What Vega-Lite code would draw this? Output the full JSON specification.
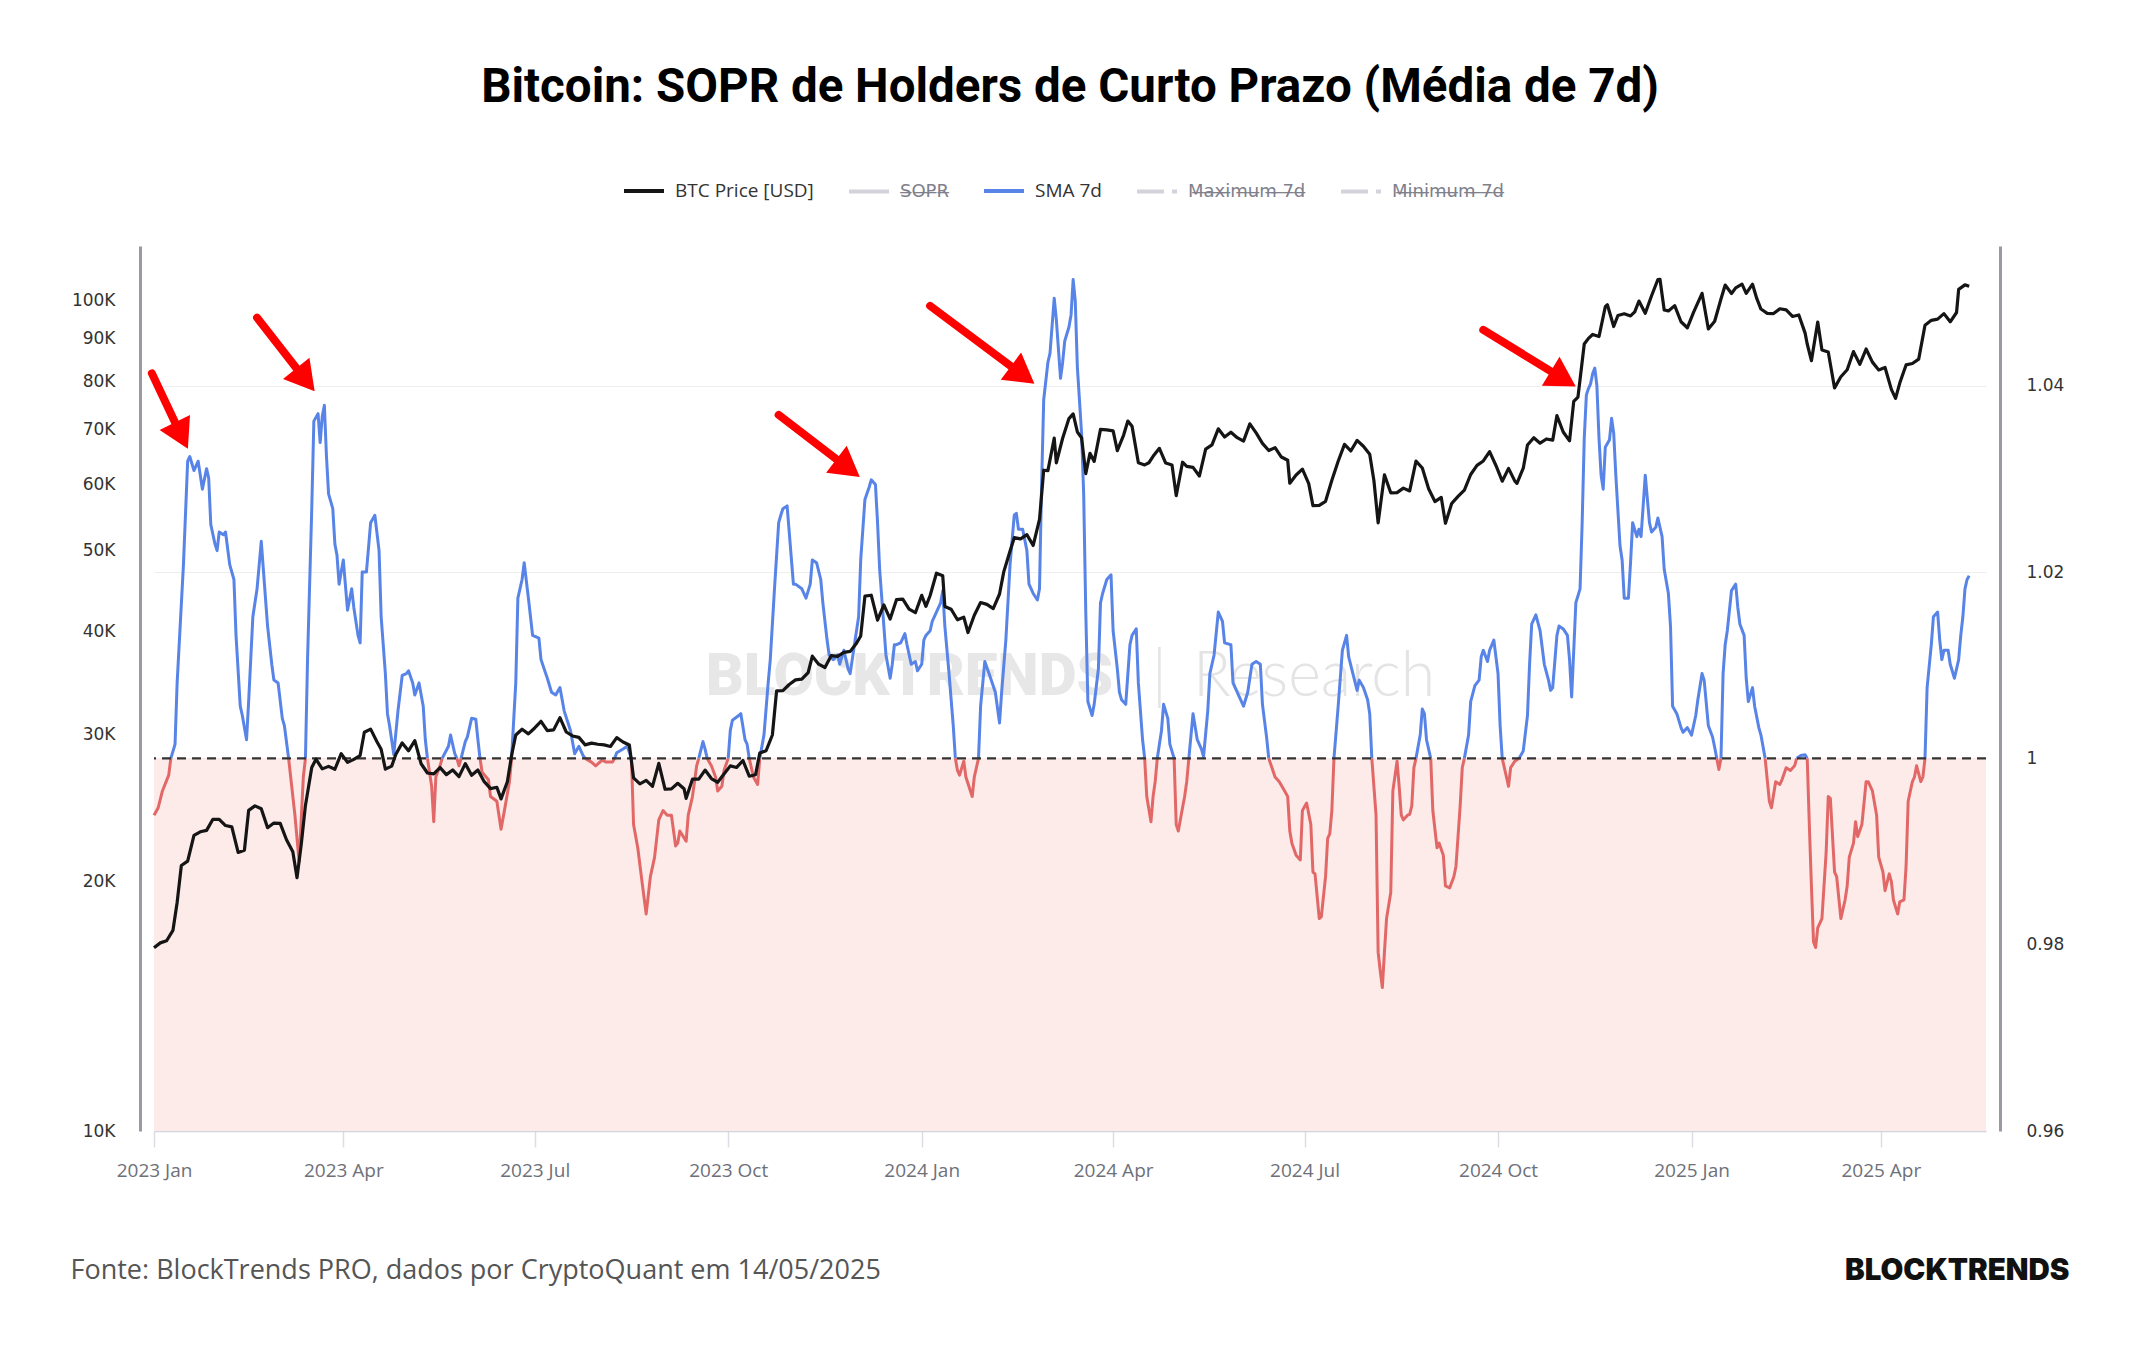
{
  "$schema": "https://vega.github.io/schema/vega-lite/v6.json",
  "autosize": {"type": "none"},
  "width": 1832,
  "height": 885,
  "padding": {"left": 154, "top": 246, "right": 158, "bottom": 219},
  "background": "#ffffff",
  "title": {
    "text": "Bitcoin: SOPR de Holders de Curto Prazo (Média de 7d)",
    "font": "Roboto",
    "fontSize": 47.5,
    "fontWeight": "bold",
    "color": "#000000",
    "anchor": "middle",
    "frame": "group",
    "offset": 57.5
  },
  "config": {
    "view": {"stroke": null},
    "axis": {"labelFont": "DejaVu Sans", "titleFont": "Open Sans"}
  },
  "datasets": {
    "btc": [
      {"d":"2023-01-01","p":16620},{"d":"2023-01-04","p":16850},{"d":"2023-01-07","p":16950},{"d":"2023-01-10","p":17440},
      {"d":"2023-01-12","p":18850},{"d":"2023-01-14","p":20880},{"d":"2023-01-17","p":21140},{"d":"2023-01-20","p":22700},
      {"d":"2023-01-23","p":22930},{"d":"2023-01-26","p":23020},{"d":"2023-01-29","p":23740},{"d":"2023-02-01","p":23730},
      {"d":"2023-02-04","p":23330},{"d":"2023-02-07","p":23240},{"d":"2023-02-10","p":21650},{"d":"2023-02-13","p":21790},
      {"d":"2023-02-15","p":24330},{"d":"2023-02-18","p":24640},{"d":"2023-02-21","p":24440},{"d":"2023-02-24","p":23190},
      {"d":"2023-02-27","p":23490},{"d":"2023-03-02","p":23470},{"d":"2023-03-05","p":22430},{"d":"2023-03-08","p":21700},
      {"d":"2023-03-10","p":20190},{"d":"2023-03-12","p":22130},{"d":"2023-03-14","p":24670},{"d":"2023-03-17","p":27400},
      {"d":"2023-03-19","p":28040},{"d":"2023-03-22","p":27300},{"d":"2023-03-25","p":27490},{"d":"2023-03-28","p":27270},
      {"d":"2023-03-31","p":28480},{"d":"2023-04-03","p":27800},{"d":"2023-04-06","p":28030},{"d":"2023-04-09","p":28330},
      {"d":"2023-04-11","p":30220},{"d":"2023-04-14","p":30480},{"d":"2023-04-17","p":29440},{"d":"2023-04-19","p":28820},
      {"d":"2023-04-21","p":27280},{"d":"2023-04-24","p":27510},{"d":"2023-04-26","p":28430},{"d":"2023-04-29","p":29340},
      {"d":"2023-05-02","p":28700},{"d":"2023-05-05","p":29530},{"d":"2023-05-08","p":27690},{"d":"2023-05-11","p":26990},
      {"d":"2023-05-14","p":26920},{"d":"2023-05-17","p":27400},{"d":"2023-05-20","p":26870},{"d":"2023-05-23","p":27220},
      {"d":"2023-05-26","p":26720},{"d":"2023-05-29","p":27700},{"d":"2023-06-01","p":26820},{"d":"2023-06-04","p":27220},
      {"d":"2023-06-07","p":26350},{"d":"2023-06-10","p":25850},{"d":"2023-06-13","p":25940},{"d":"2023-06-15","p":25120},
      {"d":"2023-06-18","p":26340},{"d":"2023-06-20","p":28330},{"d":"2023-06-22","p":29990},{"d":"2023-06-25","p":30470},
      {"d":"2023-06-28","p":30080},{"d":"2023-07-01","p":30580},{"d":"2023-07-04","p":31150},{"d":"2023-07-07","p":30350},
      {"d":"2023-07-10","p":30420},{"d":"2023-07-13","p":31470},{"d":"2023-07-16","p":30240},{"d":"2023-07-19","p":29910},
      {"d":"2023-07-22","p":29790},{"d":"2023-07-25","p":29180},{"d":"2023-07-28","p":29320},{"d":"2023-07-31","p":29230},
      {"d":"2023-08-03","p":29180},{"d":"2023-08-06","p":29050},{"d":"2023-08-09","p":29770},{"d":"2023-08-12","p":29410},
      {"d":"2023-08-15","p":29170},{"d":"2023-08-17","p":26630},{"d":"2023-08-20","p":26190},{"d":"2023-08-23","p":26440},
      {"d":"2023-08-26","p":26010},{"d":"2023-08-29","p":27720},{"d":"2023-09-01","p":25800},{"d":"2023-09-04","p":25830},
      {"d":"2023-09-07","p":26230},{"d":"2023-09-10","p":25840},{"d":"2023-09-11","p":25160},{"d":"2023-09-14","p":26530},
      {"d":"2023-09-17","p":26530},{"d":"2023-09-20","p":27210},{"d":"2023-09-23","p":26580},{"d":"2023-09-26","p":26300},
      {"d":"2023-09-29","p":26910},{"d":"2023-10-02","p":27530},{"d":"2023-10-05","p":27410},{"d":"2023-10-08","p":27940},
      {"d":"2023-10-11","p":26750},{"d":"2023-10-14","p":26860},{"d":"2023-10-16","p":28520},{"d":"2023-10-19","p":28710},
      {"d":"2023-10-22","p":29990},{"d":"2023-10-24","p":33900},{"d":"2023-10-27","p":33920},{"d":"2023-10-30","p":34500},
      {"d":"2023-11-02","p":34940},{"d":"2023-11-05","p":35010},{"d":"2023-11-08","p":35650},{"d":"2023-11-10","p":37320},
      {"d":"2023-11-13","p":36500},{"d":"2023-11-16","p":36160},{"d":"2023-11-19","p":37380},{"d":"2023-11-22","p":37290},
      {"d":"2023-11-25","p":37720},{"d":"2023-11-28","p":37820},{"d":"2023-12-01","p":38690},{"d":"2023-12-03","p":39470},
      {"d":"2023-12-05","p":44080},{"d":"2023-12-08","p":44190},{"d":"2023-12-11","p":41240},{"d":"2023-12-14","p":43020},
      {"d":"2023-12-17","p":41360},{"d":"2023-12-20","p":43650},{"d":"2023-12-23","p":43720},{"d":"2023-12-26","p":42520},
      {"d":"2023-12-29","p":42100},{"d":"2024-01-01","p":44180},{"d":"2024-01-03","p":42850},{"d":"2024-01-05","p":44160},
      {"d":"2024-01-08","p":46970},{"d":"2024-01-11","p":46630},{"d":"2024-01-12","p":42830},{"d":"2024-01-15","p":42510},
      {"d":"2024-01-18","p":41280},{"d":"2024-01-21","p":41580},{"d":"2024-01-23","p":39850},{"d":"2024-01-26","p":41810},
      {"d":"2024-01-29","p":43300},{"d":"2024-02-01","p":43080},{"d":"2024-02-04","p":42580},{"d":"2024-02-07","p":44340},
      {"d":"2024-02-09","p":47150},{"d":"2024-02-12","p":49960},{"d":"2024-02-14","p":51840},{"d":"2024-02-17","p":51660},
      {"d":"2024-02-20","p":52270},{"d":"2024-02-23","p":50730},{"d":"2024-02-26","p":54520},{"d":"2024-02-28","p":62500},
      {"d":"2024-03-01","p":62440},{"d":"2024-03-04","p":68330},{"d":"2024-03-05","p":63800},{"d":"2024-03-08","p":68300},
      {"d":"2024-03-11","p":72120},{"d":"2024-03-13","p":73080},{"d":"2024-03-15","p":69500},{"d":"2024-03-17","p":68390},
      {"d":"2024-03-19","p":61910},{"d":"2024-03-21","p":65500},{"d":"2024-03-23","p":64040},{"d":"2024-03-26","p":70000},
      {"d":"2024-03-29","p":69890},{"d":"2024-04-01","p":69700},{"d":"2024-04-03","p":65980},{"d":"2024-04-06","p":68900},
      {"d":"2024-04-08","p":71630},{"d":"2024-04-10","p":70600},{"d":"2024-04-13","p":63800},{"d":"2024-04-16","p":63430},
      {"d":"2024-04-18","p":63810},{"d":"2024-04-20","p":64950},{"d":"2024-04-23","p":66410},{"d":"2024-04-26","p":63760},
      {"d":"2024-04-29","p":63420},{"d":"2024-05-01","p":58250},{"d":"2024-05-04","p":63900},{"d":"2024-05-06","p":63160},
      {"d":"2024-05-09","p":63000},{"d":"2024-05-12","p":61500},{"d":"2024-05-15","p":66270},{"d":"2024-05-18","p":67040},
      {"d":"2024-05-21","p":70100},{"d":"2024-05-24","p":68520},{"d":"2024-05-27","p":69450},{"d":"2024-05-30","p":68400},
      {"d":"2024-06-02","p":67760},{"d":"2024-06-05","p":71080},{"d":"2024-06-08","p":69310},{"d":"2024-06-11","p":67320},
      {"d":"2024-06-14","p":66010},{"d":"2024-06-17","p":66550},{"d":"2024-06-20","p":64830},{"d":"2024-06-23","p":64250},
      {"d":"2024-06-24","p":60280},{"d":"2024-06-27","p":61680},{"d":"2024-06-30","p":62680},{"d":"2024-07-03","p":60220},
      {"d":"2024-07-05","p":56660},{"d":"2024-07-08","p":56700},{"d":"2024-07-11","p":57340},{"d":"2024-07-14","p":60800},
      {"d":"2024-07-17","p":64080},{"d":"2024-07-20","p":67150},{"d":"2024-07-23","p":65930},{"d":"2024-07-26","p":67900},
      {"d":"2024-07-29","p":66800},{"d":"2024-08-01","p":65350},{"d":"2024-08-03","p":60700},{"d":"2024-08-05","p":54020},
      {"d":"2024-08-08","p":61700},{"d":"2024-08-11","p":58700},{"d":"2024-08-14","p":58740},{"d":"2024-08-17","p":59480},
      {"d":"2024-08-20","p":59010},{"d":"2024-08-23","p":64100},{"d":"2024-08-26","p":62880},{"d":"2024-08-29","p":59360},
      {"d":"2024-09-01","p":57300},{"d":"2024-09-04","p":57970},{"d":"2024-09-06","p":53950},{"d":"2024-09-09","p":57020},
      {"d":"2024-09-12","p":58130},{"d":"2024-09-15","p":59130},{"d":"2024-09-18","p":61760},{"d":"2024-09-21","p":63350},
      {"d":"2024-09-24","p":64130},{"d":"2024-09-27","p":65800},{"d":"2024-09-30","p":63330},{"d":"2024-10-03","p":60630},
      {"d":"2024-10-06","p":62820},{"d":"2024-10-09","p":60640},{"d":"2024-10-10","p":60270},{"d":"2024-10-13","p":62850},
      {"d":"2024-10-15","p":67040},{"d":"2024-10-18","p":68400},{"d":"2024-10-21","p":67370},{"d":"2024-10-24","p":68160},
      {"d":"2024-10-27","p":67930},{"d":"2024-10-29","p":72730},{"d":"2024-11-01","p":69480},{"d":"2024-11-04","p":67810},
      {"d":"2024-11-06","p":75640},{"d":"2024-11-08","p":76550},{"d":"2024-11-11","p":88700},{"d":"2024-11-13","p":90100},
      {"d":"2024-11-15","p":91070},{"d":"2024-11-18","p":90550},{"d":"2024-11-21","p":98350},{"d":"2024-11-22","p":98900},
      {"d":"2024-11-25","p":93100},{"d":"2024-11-27","p":96000},{"d":"2024-11-30","p":96450},{"d":"2024-12-03","p":95880},
      {"d":"2024-12-05","p":96950},{"d":"2024-12-07","p":99920},{"d":"2024-12-10","p":96590},{"d":"2024-12-13","p":101400},
      {"d":"2024-12-16","p":106060},{"d":"2024-12-17","p":106140},{"d":"2024-12-19","p":97460},{"d":"2024-12-21","p":97220},
      {"d":"2024-12-24","p":98660},{"d":"2024-12-27","p":94350},{"d":"2024-12-30","p":92780},{"d":"2025-01-02","p":96890},
      {"d":"2025-01-06","p":102080},{"d":"2025-01-09","p":92490},{"d":"2025-01-12","p":94490},{"d":"2025-01-15","p":100500},
      {"d":"2025-01-17","p":104460},{"d":"2025-01-20","p":102020},{"d":"2025-01-22","p":103650},{"d":"2025-01-25","p":104700},
      {"d":"2025-01-27","p":102090},{"d":"2025-01-30","p":104700},{"d":"2025-02-01","p":100640},{"d":"2025-02-03","p":97730},
      {"d":"2025-02-06","p":96580},{"d":"2025-02-09","p":96500},{"d":"2025-02-12","p":97800},{"d":"2025-02-15","p":97510},
      {"d":"2025-02-18","p":95740},{"d":"2025-02-21","p":96130},{"d":"2025-02-24","p":91420},{"d":"2025-02-25","p":88700},
      {"d":"2025-02-27","p":84700},{"d":"2025-03-02","p":94260},{"d":"2025-03-04","p":87220},{"d":"2025-03-07","p":86740},
      {"d":"2025-03-10","p":78530},{"d":"2025-03-13","p":80990},{"d":"2025-03-16","p":82580},{"d":"2025-03-19","p":86850},
      {"d":"2025-03-22","p":83840},{"d":"2025-03-25","p":87470},{"d":"2025-03-28","p":84350},{"d":"2025-03-31","p":82550},
      {"d":"2025-04-03","p":83100},{"d":"2025-04-06","p":78200},{"d":"2025-04-08","p":76270},{"d":"2025-04-10","p":79590},
      {"d":"2025-04-13","p":83700},{"d":"2025-04-16","p":84030},{"d":"2025-04-19","p":85060},{"d":"2025-04-22","p":93440},
      {"d":"2025-04-25","p":94720},{"d":"2025-04-28","p":95040},{"d":"2025-05-01","p":96490},{"d":"2025-05-04","p":94320},
      {"d":"2025-05-07","p":96800},{"d":"2025-05-08","p":103200},{"d":"2025-05-11","p":104500},{"d":"2025-05-13","p":104100}
    ],
    "sopr": [
      {"d":"2023-01-01","v":0.9939,"g":1,"s":"below"},{"d":"2023-01-03","v":0.9947,"g":1,"s":"below"},{"d":"2023-01-05","v":0.9965,"g":1,"s":"below"},{"d":"2023-01-08","v":0.9982,"g":1,"s":"below"},{"d":"2023-01-09","v":1,"g":1,"s":"below"},
      {"d":"2023-01-09","v":1,"g":2,"s":"above"},{"d":"2023-01-11","v":1.0015,"g":2,"s":"above"},{"d":"2023-01-12","v":1.0081,"g":2,"s":"above"},{"d":"2023-01-15","v":1.0208,"g":2,"s":"above"},{"d":"2023-01-17","v":1.0319,"g":2,"s":"above"},{"d":"2023-01-18","v":1.0324,"g":2,"s":"above"},{"d":"2023-01-20","v":1.0309,"g":2,"s":"above"},{"d":"2023-01-22","v":1.0319,"g":2,"s":"above"},{"d":"2023-01-24","v":1.0289,"g":2,"s":"above"},{"d":"2023-01-26","v":1.0311,"g":2,"s":"above"},{"d":"2023-01-27","v":1.0301,"g":2,"s":"above"},{"d":"2023-01-28","v":1.0251,"g":2,"s":"above"},{"d":"2023-01-30","v":1.0230,"g":2,"s":"above"},{"d":"2023-01-31","v":1.0223,"g":2,"s":"above"},{"d":"2023-02-01","v":1.0243,"g":2,"s":"above"},{"d":"2023-02-03","v":1.0240,"g":2,"s":"above"},{"d":"2023-02-04","v":1.0243,"g":2,"s":"above"},{"d":"2023-02-06","v":1.0208,"g":2,"s":"above"},{"d":"2023-02-08","v":1.0192,"g":2,"s":"above"},{"d":"2023-02-09","v":1.0132,"g":2,"s":"above"},{"d":"2023-02-11","v":1.0056,"g":2,"s":"above"},{"d":"2023-02-12","v":1.0046,"g":2,"s":"above"},{"d":"2023-02-14","v":1.0020,"g":2,"s":"above"},{"d":"2023-02-15","v":1.0061,"g":2,"s":"above"},{"d":"2023-02-17","v":1.0152,"g":2,"s":"above"},{"d":"2023-02-19","v":1.0182,"g":2,"s":"above"},{"d":"2023-02-21","v":1.0233,"g":2,"s":"above"},{"d":"2023-02-23","v":1.0172,"g":2,"s":"above"},{"d":"2023-02-24","v":1.0142,"g":2,"s":"above"},{"d":"2023-02-26","v":1.0101,"g":2,"s":"above"},{"d":"2023-02-27","v":1.0084,"g":2,"s":"above"},{"d":"2023-03-01","v":1.0081,"g":2,"s":"above"},{"d":"2023-03-03","v":1.0043,"g":2,"s":"above"},{"d":"2023-03-04","v":1.0035,"g":2,"s":"above"},{"d":"2023-03-06","v":1,"g":2,"s":"above"},
      {"d":"2023-03-06","v":1,"g":3,"s":"below"},{"d":"2023-03-09","v":0.9939,"g":3,"s":"below"},{"d":"2023-03-11","v":0.9889,"g":3,"s":"below"},{"d":"2023-03-13","v":0.9980,"g":3,"s":"below"},{"d":"2023-03-14","v":1,"g":3,"s":"below"},
      {"d":"2023-03-14","v":1,"g":4,"s":"above"},{"d":"2023-03-15","v":1.0106,"g":4,"s":"above"},{"d":"2023-03-17","v":1.0268,"g":4,"s":"above"},{"d":"2023-03-18","v":1.0362,"g":4,"s":"above"},{"d":"2023-03-20","v":1.0370,"g":4,"s":"above"},{"d":"2023-03-21","v":1.0339,"g":4,"s":"above"},{"d":"2023-03-22","v":1.0367,"g":4,"s":"above"},{"d":"2023-03-23","v":1.0379,"g":4,"s":"above"},{"d":"2023-03-24","v":1.0324,"g":4,"s":"above"},{"d":"2023-03-25","v":1.0284,"g":4,"s":"above"},{"d":"2023-03-27","v":1.0268,"g":4,"s":"above"},{"d":"2023-03-28","v":1.0230,"g":4,"s":"above"},{"d":"2023-03-29","v":1.0218,"g":4,"s":"above"},{"d":"2023-03-30","v":1.0187,"g":4,"s":"above"},{"d":"2023-04-01","v":1.0213,"g":4,"s":"above"},{"d":"2023-04-03","v":1.0159,"g":4,"s":"above"},{"d":"2023-04-05","v":1.0182,"g":4,"s":"above"},{"d":"2023-04-06","v":1.0162,"g":4,"s":"above"},{"d":"2023-04-08","v":1.0132,"g":4,"s":"above"},{"d":"2023-04-09","v":1.0124,"g":4,"s":"above"},{"d":"2023-04-10","v":1.0200,"g":4,"s":"above"},{"d":"2023-04-12","v":1.0200,"g":4,"s":"above"},{"d":"2023-04-14","v":1.0253,"g":4,"s":"above"},{"d":"2023-04-16","v":1.0261,"g":4,"s":"above"},{"d":"2023-04-18","v":1.0223,"g":4,"s":"above"},{"d":"2023-04-19","v":1.0152,"g":4,"s":"above"},{"d":"2023-04-21","v":1.0091,"g":4,"s":"above"},{"d":"2023-04-22","v":1.0048,"g":4,"s":"above"},{"d":"2023-04-23","v":1.0035,"g":4,"s":"above"},{"d":"2023-04-25","v":1.0004,"g":4,"s":"above"},{"d":"2023-04-27","v":1.0051,"g":4,"s":"above"},{"d":"2023-04-29","v":1.0089,"g":4,"s":"above"},{"d":"2023-05-01","v":1.0091,"g":4,"s":"above"},{"d":"2023-05-02","v":1.0094,"g":4,"s":"above"},{"d":"2023-05-04","v":1.0081,"g":4,"s":"above"},{"d":"2023-05-05","v":1.0068,"g":4,"s":"above"},{"d":"2023-05-07","v":1.0081,"g":4,"s":"above"},{"d":"2023-05-09","v":1.0056,"g":4,"s":"above"},{"d":"2023-05-10","v":1.0020,"g":4,"s":"above"},{"d":"2023-05-11","v":1,"g":4,"s":"above"},
      {"d":"2023-05-11","v":1,"g":5,"s":"below"},{"d":"2023-05-13","v":0.9970,"g":5,"s":"below"},{"d":"2023-05-14","v":0.9932,"g":5,"s":"below"},{"d":"2023-05-15","v":0.9980,"g":5,"s":"below"},{"d":"2023-05-17","v":0.9992,"g":5,"s":"below"},{"d":"2023-05-18","v":1,"g":5,"s":"below"},
      {"d":"2023-05-18","v":1,"g":6,"s":"above"},{"d":"2023-05-21","v":1.0013,"g":6,"s":"above"},{"d":"2023-05-22","v":1.0025,"g":6,"s":"above"},{"d":"2023-05-24","v":1.0005,"g":6,"s":"above"},{"d":"2023-05-25","v":1,"g":6,"s":"above"},
      {"d":"2023-05-25","v":1,"g":7,"s":"below"},{"d":"2023-05-26","v":0.9992,"g":7,"s":"below"},{"d":"2023-05-27","v":1,"g":7,"s":"below"},
      {"d":"2023-05-27","v":1,"g":8,"s":"above"},{"d":"2023-05-29","v":1.0018,"g":8,"s":"above"},{"d":"2023-05-30","v":1.0023,"g":8,"s":"above"},{"d":"2023-06-01","v":1.0043,"g":8,"s":"above"},{"d":"2023-06-03","v":1.0042,"g":8,"s":"above"},{"d":"2023-06-04","v":1.0020,"g":8,"s":"above"},{"d":"2023-06-05","v":1,"g":8,"s":"above"},
      {"d":"2023-06-05","v":1,"g":9,"s":"below"},{"d":"2023-06-06","v":0.9985,"g":9,"s":"below"},{"d":"2023-06-09","v":0.9977,"g":9,"s":"below"},{"d":"2023-06-10","v":0.9959,"g":9,"s":"below"},{"d":"2023-06-13","v":0.9954,"g":9,"s":"below"},{"d":"2023-06-15","v":0.9924,"g":9,"s":"below"},{"d":"2023-06-17","v":0.9949,"g":9,"s":"below"},{"d":"2023-06-19","v":0.9975,"g":9,"s":"below"},{"d":"2023-06-20","v":1,"g":9,"s":"below"},
      {"d":"2023-06-20","v":1,"g":10,"s":"above"},{"d":"2023-06-22","v":1.0081,"g":10,"s":"above"},{"d":"2023-06-23","v":1.0172,"g":10,"s":"above"},{"d":"2023-06-25","v":1.0192,"g":10,"s":"above"},{"d":"2023-06-26","v":1.0210,"g":10,"s":"above"},{"d":"2023-06-28","v":1.0172,"g":10,"s":"above"},{"d":"2023-06-30","v":1.0132,"g":10,"s":"above"},{"d":"2023-07-03","v":1.0129,"g":10,"s":"above"},{"d":"2023-07-04","v":1.0106,"g":10,"s":"above"},{"d":"2023-07-07","v":1.0086,"g":10,"s":"above"},{"d":"2023-07-09","v":1.0071,"g":10,"s":"above"},{"d":"2023-07-11","v":1.0068,"g":10,"s":"above"},{"d":"2023-07-13","v":1.0076,"g":10,"s":"above"},{"d":"2023-07-15","v":1.0051,"g":10,"s":"above"},{"d":"2023-07-18","v":1.0030,"g":10,"s":"above"},{"d":"2023-07-20","v":1.0005,"g":10,"s":"above"},{"d":"2023-07-22","v":1.0013,"g":10,"s":"above"},{"d":"2023-07-24","v":1.0003,"g":10,"s":"above"},{"d":"2023-07-25","v":1,"g":10,"s":"above"},
      {"d":"2023-07-25","v":1,"g":11,"s":"below"},{"d":"2023-07-28","v":0.9996,"g":11,"s":"below"},{"d":"2023-07-30","v":0.9992,"g":11,"s":"below"},{"d":"2023-08-02","v":0.9998,"g":11,"s":"below"},{"d":"2023-08-04","v":0.9996,"g":11,"s":"below"},{"d":"2023-08-07","v":0.9996,"g":11,"s":"below"},{"d":"2023-08-08","v":1,"g":11,"s":"below"},
      {"d":"2023-08-08","v":1,"g":12,"s":"above"},{"d":"2023-08-09","v":1.0006,"g":12,"s":"above"},{"d":"2023-08-12","v":1.0010,"g":12,"s":"above"},{"d":"2023-08-14","v":1.0013,"g":12,"s":"above"},{"d":"2023-08-16","v":1,"g":12,"s":"above"},
      {"d":"2023-08-16","v":1,"g":13,"s":"below"},{"d":"2023-08-17","v":0.9929,"g":13,"s":"below"},{"d":"2023-08-19","v":0.9904,"g":13,"s":"below"},{"d":"2023-08-21","v":0.9868,"g":13,"s":"below"},{"d":"2023-08-23","v":0.9833,"g":13,"s":"below"},{"d":"2023-08-25","v":0.9873,"g":13,"s":"below"},{"d":"2023-08-27","v":0.9894,"g":13,"s":"below"},{"d":"2023-08-29","v":0.9934,"g":13,"s":"below"},{"d":"2023-08-31","v":0.9944,"g":13,"s":"below"},{"d":"2023-09-02","v":0.9939,"g":13,"s":"below"},{"d":"2023-09-04","v":0.9939,"g":13,"s":"below"},{"d":"2023-09-06","v":0.9906,"g":13,"s":"below"},{"d":"2023-09-07","v":0.9909,"g":13,"s":"below"},{"d":"2023-09-08","v":0.9922,"g":13,"s":"below"},{"d":"2023-09-11","v":0.9911,"g":13,"s":"below"},{"d":"2023-09-12","v":0.9939,"g":13,"s":"below"},{"d":"2023-09-14","v":0.9959,"g":13,"s":"below"},{"d":"2023-09-15","v":0.9975,"g":13,"s":"below"},{"d":"2023-09-16","v":0.9992,"g":13,"s":"below"},{"d":"2023-09-17","v":1,"g":13,"s":"below"},
      {"d":"2023-09-17","v":1,"g":14,"s":"above"},{"d":"2023-09-19","v":1.0018,"g":14,"s":"above"},{"d":"2023-09-20","v":1.0010,"g":14,"s":"above"},{"d":"2023-09-21","v":1,"g":14,"s":"above"},
      {"d":"2023-09-21","v":1,"g":15,"s":"below"},{"d":"2023-09-23","v":0.9992,"g":15,"s":"below"},{"d":"2023-09-25","v":0.9980,"g":15,"s":"below"},{"d":"2023-09-26","v":0.9965,"g":15,"s":"below"},{"d":"2023-09-28","v":0.9970,"g":15,"s":"below"},{"d":"2023-09-29","v":0.9987,"g":15,"s":"below"},{"d":"2023-10-01","v":1,"g":15,"s":"below"},
      {"d":"2023-10-01","v":1,"g":16,"s":"above"},{"d":"2023-10-02","v":1.0030,"g":16,"s":"above"},{"d":"2023-10-03","v":1.0041,"g":16,"s":"above"},{"d":"2023-10-06","v":1.0046,"g":16,"s":"above"},{"d":"2023-10-07","v":1.0048,"g":16,"s":"above"},{"d":"2023-10-09","v":1.0020,"g":16,"s":"above"},{"d":"2023-10-10","v":1.0015,"g":16,"s":"above"},{"d":"2023-10-11","v":1,"g":16,"s":"above"},
      {"d":"2023-10-11","v":1,"g":17,"s":"below"},{"d":"2023-10-13","v":0.9980,"g":17,"s":"below"},{"d":"2023-10-15","v":0.9972,"g":17,"s":"below"},{"d":"2023-10-16","v":1,"g":17,"s":"below"},
      {"d":"2023-10-16","v":1,"g":18,"s":"above"},{"d":"2023-10-18","v":1.0025,"g":18,"s":"above"},{"d":"2023-10-20","v":1.0081,"g":18,"s":"above"},{"d":"2023-10-21","v":1.0106,"g":18,"s":"above"},{"d":"2023-10-23","v":1.0182,"g":18,"s":"above"},{"d":"2023-10-25","v":1.0253,"g":18,"s":"above"},{"d":"2023-10-26","v":1.0261,"g":18,"s":"above"},{"d":"2023-10-27","v":1.0268,"g":18,"s":"above"},{"d":"2023-10-29","v":1.0271,"g":18,"s":"above"},{"d":"2023-10-30","v":1.0243,"g":18,"s":"above"},{"d":"2023-11-01","v":1.0187,"g":18,"s":"above"},{"d":"2023-11-02","v":1.0187,"g":18,"s":"above"},{"d":"2023-11-05","v":1.0182,"g":18,"s":"above"},{"d":"2023-11-07","v":1.0172,"g":18,"s":"above"},{"d":"2023-11-09","v":1.0187,"g":18,"s":"above"},{"d":"2023-11-10","v":1.0213,"g":18,"s":"above"},{"d":"2023-11-12","v":1.0210,"g":18,"s":"above"},{"d":"2023-11-14","v":1.0192,"g":18,"s":"above"},{"d":"2023-11-15","v":1.0167,"g":18,"s":"above"},{"d":"2023-11-17","v":1.0127,"g":18,"s":"above"},{"d":"2023-11-18","v":1.0111,"g":18,"s":"above"},{"d":"2023-11-20","v":1.0106,"g":18,"s":"above"},{"d":"2023-11-22","v":1.0111,"g":18,"s":"above"},{"d":"2023-11-23","v":1.0101,"g":18,"s":"above"},{"d":"2023-11-25","v":1.0116,"g":18,"s":"above"},{"d":"2023-11-27","v":1.0096,"g":18,"s":"above"},{"d":"2023-11-28","v":1.0091,"g":18,"s":"above"},{"d":"2023-11-30","v":1.0122,"g":18,"s":"above"},{"d":"2023-12-02","v":1.0152,"g":18,"s":"above"},{"d":"2023-12-03","v":1.0213,"g":18,"s":"above"},{"d":"2023-12-05","v":1.0278,"g":18,"s":"above"},{"d":"2023-12-07","v":1.0291,"g":18,"s":"above"},{"d":"2023-12-08","v":1.0299,"g":18,"s":"above"},{"d":"2023-12-10","v":1.0294,"g":18,"s":"above"},{"d":"2023-12-11","v":1.0253,"g":18,"s":"above"},{"d":"2023-12-12","v":1.0203,"g":18,"s":"above"},{"d":"2023-12-14","v":1.0142,"g":18,"s":"above"},{"d":"2023-12-15","v":1.0111,"g":18,"s":"above"},{"d":"2023-12-17","v":1.0086,"g":18,"s":"above"},{"d":"2023-12-18","v":1.0101,"g":18,"s":"above"},{"d":"2023-12-19","v":1.0122,"g":18,"s":"above"},{"d":"2023-12-20","v":1.0122,"g":18,"s":"above"},{"d":"2023-12-22","v":1.0124,"g":18,"s":"above"},{"d":"2023-12-24","v":1.0134,"g":18,"s":"above"},{"d":"2023-12-25","v":1.0122,"g":18,"s":"above"},{"d":"2023-12-27","v":1.0101,"g":18,"s":"above"},{"d":"2023-12-29","v":1.0104,"g":18,"s":"above"},{"d":"2023-12-30","v":1.0094,"g":18,"s":"above"},{"d":"2024-01-01","v":1.0101,"g":18,"s":"above"},{"d":"2024-01-02","v":1.0127,"g":18,"s":"above"},{"d":"2024-01-03","v":1.0132,"g":18,"s":"above"},{"d":"2024-01-05","v":1.0137,"g":18,"s":"above"},{"d":"2024-01-06","v":1.0147,"g":18,"s":"above"},{"d":"2024-01-08","v":1.0157,"g":18,"s":"above"},{"d":"2024-01-10","v":1.0167,"g":18,"s":"above"},{"d":"2024-01-11","v":1.0180,"g":18,"s":"above"},{"d":"2024-01-12","v":1.0142,"g":18,"s":"above"},{"d":"2024-01-14","v":1.0091,"g":18,"s":"above"},{"d":"2024-01-16","v":1.0035,"g":18,"s":"above"},{"d":"2024-01-17","v":1,"g":18,"s":"above"},
      {"d":"2024-01-17","v":1,"g":19,"s":"below"},{"d":"2024-01-18","v":0.9987,"g":19,"s":"below"},{"d":"2024-01-19","v":0.9982,"g":19,"s":"below"},{"d":"2024-01-21","v":0.9997,"g":19,"s":"below"},{"d":"2024-01-22","v":0.9980,"g":19,"s":"below"},{"d":"2024-01-25","v":0.9959,"g":19,"s":"below"},{"d":"2024-01-26","v":0.9980,"g":19,"s":"below"},{"d":"2024-01-28","v":1,"g":19,"s":"below"},
      {"d":"2024-01-28","v":1,"g":20,"s":"above"},{"d":"2024-01-29","v":1.0056,"g":20,"s":"above"},{"d":"2024-01-31","v":1.0104,"g":20,"s":"above"},{"d":"2024-02-02","v":1.0091,"g":20,"s":"above"},{"d":"2024-02-05","v":1.0071,"g":20,"s":"above"},{"d":"2024-02-07","v":1.0038,"g":20,"s":"above"},{"d":"2024-02-08","v":1.0071,"g":20,"s":"above"},{"d":"2024-02-10","v":1.0127,"g":20,"s":"above"},{"d":"2024-02-12","v":1.0208,"g":20,"s":"above"},{"d":"2024-02-14","v":1.0261,"g":20,"s":"above"},{"d":"2024-02-15","v":1.0263,"g":20,"s":"above"},{"d":"2024-02-16","v":1.0246,"g":20,"s":"above"},{"d":"2024-02-18","v":1.0246,"g":20,"s":"above"},{"d":"2024-02-20","v":1.0223,"g":20,"s":"above"},{"d":"2024-02-21","v":1.0187,"g":20,"s":"above"},{"d":"2024-02-23","v":1.0177,"g":20,"s":"above"},{"d":"2024-02-25","v":1.0170,"g":20,"s":"above"},{"d":"2024-02-26","v":1.0182,"g":20,"s":"above"},{"d":"2024-02-27","v":1.0294,"g":20,"s":"above"},{"d":"2024-02-28","v":1.0385,"g":20,"s":"above"},{"d":"2024-03-01","v":1.0425,"g":20,"s":"above"},{"d":"2024-03-02","v":1.0435,"g":20,"s":"above"},{"d":"2024-03-04","v":1.0494,"g":20,"s":"above"},{"d":"2024-03-05","v":1.0471,"g":20,"s":"above"},{"d":"2024-03-07","v":1.0408,"g":20,"s":"above"},{"d":"2024-03-08","v":1.0425,"g":20,"s":"above"},{"d":"2024-03-09","v":1.0448,"g":20,"s":"above"},{"d":"2024-03-11","v":1.0463,"g":20,"s":"above"},{"d":"2024-03-12","v":1.0476,"g":20,"s":"above"},{"d":"2024-03-13","v":1.0514,"g":20,"s":"above"},{"d":"2024-03-14","v":1.0491,"g":20,"s":"above"},{"d":"2024-03-15","v":1.0420,"g":20,"s":"above"},{"d":"2024-03-17","v":1.0349,"g":20,"s":"above"},{"d":"2024-03-18","v":1.0284,"g":20,"s":"above"},{"d":"2024-03-19","v":1.0157,"g":20,"s":"above"},{"d":"2024-03-20","v":1.0061,"g":20,"s":"above"},{"d":"2024-03-22","v":1.0046,"g":20,"s":"above"},{"d":"2024-03-23","v":1.0058,"g":20,"s":"above"},{"d":"2024-03-25","v":1.0096,"g":20,"s":"above"},{"d":"2024-03-26","v":1.0167,"g":20,"s":"above"},{"d":"2024-03-27","v":1.0177,"g":20,"s":"above"},{"d":"2024-03-29","v":1.0192,"g":20,"s":"above"},{"d":"2024-03-31","v":1.0197,"g":20,"s":"above"},{"d":"2024-04-01","v":1.0137,"g":20,"s":"above"},{"d":"2024-04-03","v":1.0096,"g":20,"s":"above"},{"d":"2024-04-04","v":1.0071,"g":20,"s":"above"},{"d":"2024-04-05","v":1.0063,"g":20,"s":"above"},{"d":"2024-04-07","v":1.0058,"g":20,"s":"above"},{"d":"2024-04-09","v":1.0122,"g":20,"s":"above"},{"d":"2024-04-10","v":1.0132,"g":20,"s":"above"},{"d":"2024-04-12","v":1.0139,"g":20,"s":"above"},{"d":"2024-04-13","v":1.0081,"g":20,"s":"above"},{"d":"2024-04-15","v":1.0020,"g":20,"s":"above"},{"d":"2024-04-16","v":1,"g":20,"s":"above"},
      {"d":"2024-04-16","v":1,"g":21,"s":"below"},{"d":"2024-04-17","v":0.9959,"g":21,"s":"below"},{"d":"2024-04-19","v":0.9932,"g":21,"s":"below"},{"d":"2024-04-20","v":0.9959,"g":21,"s":"below"},{"d":"2024-04-21","v":0.9975,"g":21,"s":"below"},{"d":"2024-04-22","v":1,"g":21,"s":"below"},
      {"d":"2024-04-22","v":1,"g":22,"s":"above"},{"d":"2024-04-24","v":1.0030,"g":22,"s":"above"},{"d":"2024-04-25","v":1.0058,"g":22,"s":"above"},{"d":"2024-04-27","v":1.0043,"g":22,"s":"above"},{"d":"2024-04-28","v":1.0015,"g":22,"s":"above"},{"d":"2024-04-30","v":1,"g":22,"s":"above"},
      {"d":"2024-04-30","v":1,"g":23,"s":"below"},{"d":"2024-05-01","v":0.9929,"g":23,"s":"below"},{"d":"2024-05-02","v":0.9922,"g":23,"s":"below"},{"d":"2024-05-04","v":0.9947,"g":23,"s":"below"},{"d":"2024-05-05","v":0.9959,"g":23,"s":"below"},{"d":"2024-05-06","v":0.9975,"g":23,"s":"below"},{"d":"2024-05-07","v":1,"g":23,"s":"below"},
      {"d":"2024-05-07","v":1,"g":24,"s":"above"},{"d":"2024-05-09","v":1.0048,"g":24,"s":"above"},{"d":"2024-05-11","v":1.0020,"g":24,"s":"above"},{"d":"2024-05-13","v":1.0010,"g":24,"s":"above"},{"d":"2024-05-14","v":1.0002,"g":24,"s":"above"},{"d":"2024-05-16","v":1.0051,"g":24,"s":"above"},{"d":"2024-05-17","v":1.0091,"g":24,"s":"above"},{"d":"2024-05-19","v":1.0111,"g":24,"s":"above"},{"d":"2024-05-21","v":1.0157,"g":24,"s":"above"},{"d":"2024-05-23","v":1.0147,"g":24,"s":"above"},{"d":"2024-05-24","v":1.0124,"g":24,"s":"above"},{"d":"2024-05-27","v":1.0122,"g":24,"s":"above"},{"d":"2024-05-28","v":1.0081,"g":24,"s":"above"},{"d":"2024-05-31","v":1.0066,"g":24,"s":"above"},{"d":"2024-06-02","v":1.0056,"g":24,"s":"above"},{"d":"2024-06-04","v":1.0071,"g":24,"s":"above"},{"d":"2024-06-06","v":1.0101,"g":24,"s":"above"},{"d":"2024-06-08","v":1.0104,"g":24,"s":"above"},{"d":"2024-06-10","v":1.0101,"g":24,"s":"above"},{"d":"2024-06-11","v":1.0058,"g":24,"s":"above"},{"d":"2024-06-13","v":1.0022,"g":24,"s":"above"},{"d":"2024-06-14","v":1,"g":24,"s":"above"},
      {"d":"2024-06-14","v":1,"g":25,"s":"below"},{"d":"2024-06-17","v":0.9980,"g":25,"s":"below"},{"d":"2024-06-19","v":0.9975,"g":25,"s":"below"},{"d":"2024-06-21","v":0.9967,"g":25,"s":"below"},{"d":"2024-06-23","v":0.9959,"g":25,"s":"below"},{"d":"2024-06-24","v":0.9922,"g":25,"s":"below"},{"d":"2024-06-25","v":0.9909,"g":25,"s":"below"},{"d":"2024-06-27","v":0.9896,"g":25,"s":"below"},{"d":"2024-06-29","v":0.9891,"g":25,"s":"below"},{"d":"2024-06-30","v":0.9944,"g":25,"s":"below"},{"d":"2024-07-02","v":0.9952,"g":25,"s":"below"},{"d":"2024-07-04","v":0.9929,"g":25,"s":"below"},{"d":"2024-07-05","v":0.9878,"g":25,"s":"below"},{"d":"2024-07-06","v":0.9876,"g":25,"s":"below"},{"d":"2024-07-08","v":0.9828,"g":25,"s":"below"},{"d":"2024-07-09","v":0.9830,"g":25,"s":"below"},{"d":"2024-07-11","v":0.9873,"g":25,"s":"below"},{"d":"2024-07-12","v":0.9914,"g":25,"s":"below"},{"d":"2024-07-13","v":0.9919,"g":25,"s":"below"},{"d":"2024-07-14","v":0.9944,"g":25,"s":"below"},{"d":"2024-07-15","v":1,"g":25,"s":"below"},
      {"d":"2024-07-15","v":1,"g":26,"s":"above"},{"d":"2024-07-17","v":1.0056,"g":26,"s":"above"},{"d":"2024-07-19","v":1.0116,"g":26,"s":"above"},{"d":"2024-07-21","v":1.0132,"g":26,"s":"above"},{"d":"2024-07-22","v":1.0109,"g":26,"s":"above"},{"d":"2024-07-24","v":1.0091,"g":26,"s":"above"},{"d":"2024-07-26","v":1.0073,"g":26,"s":"above"},{"d":"2024-07-27","v":1.0084,"g":26,"s":"above"},{"d":"2024-07-29","v":1.0076,"g":26,"s":"above"},{"d":"2024-07-31","v":1.0063,"g":26,"s":"above"},{"d":"2024-08-01","v":1.0048,"g":26,"s":"above"},{"d":"2024-08-02","v":1,"g":26,"s":"above"},
      {"d":"2024-08-02","v":1,"g":27,"s":"below"},{"d":"2024-08-04","v":0.9939,"g":27,"s":"below"},{"d":"2024-08-05","v":0.9792,"g":27,"s":"below"},{"d":"2024-08-06","v":0.9772,"g":27,"s":"below"},{"d":"2024-08-07","v":0.9754,"g":27,"s":"below"},{"d":"2024-08-08","v":0.9792,"g":27,"s":"below"},{"d":"2024-08-09","v":0.9828,"g":27,"s":"below"},{"d":"2024-08-11","v":0.9856,"g":27,"s":"below"},{"d":"2024-08-12","v":0.9965,"g":27,"s":"below"},{"d":"2024-08-14","v":0.9997,"g":27,"s":"below"},{"d":"2024-08-15","v":0.9970,"g":27,"s":"below"},{"d":"2024-08-16","v":0.9939,"g":27,"s":"below"},{"d":"2024-08-17","v":0.9934,"g":27,"s":"below"},{"d":"2024-08-19","v":0.9939,"g":27,"s":"below"},{"d":"2024-08-20","v":0.9940,"g":27,"s":"below"},{"d":"2024-08-21","v":0.9949,"g":27,"s":"below"},{"d":"2024-08-22","v":0.9990,"g":27,"s":"below"},{"d":"2024-08-23","v":1,"g":27,"s":"below"},
      {"d":"2024-08-23","v":1,"g":28,"s":"above"},{"d":"2024-08-25","v":1.0025,"g":28,"s":"above"},{"d":"2024-08-26","v":1.0053,"g":28,"s":"above"},{"d":"2024-08-27","v":1.0048,"g":28,"s":"above"},{"d":"2024-08-28","v":1.0020,"g":28,"s":"above"},{"d":"2024-08-30","v":1,"g":28,"s":"above"},
      {"d":"2024-08-30","v":1,"g":29,"s":"below"},{"d":"2024-08-31","v":0.9944,"g":29,"s":"below"},{"d":"2024-09-02","v":0.9904,"g":29,"s":"below"},{"d":"2024-09-03","v":0.9909,"g":29,"s":"below"},{"d":"2024-09-05","v":0.9896,"g":29,"s":"below"},{"d":"2024-09-06","v":0.9863,"g":29,"s":"below"},{"d":"2024-09-08","v":0.9861,"g":29,"s":"below"},{"d":"2024-09-10","v":0.9873,"g":29,"s":"below"},{"d":"2024-09-11","v":0.9884,"g":29,"s":"below"},{"d":"2024-09-13","v":0.9949,"g":29,"s":"below"},{"d":"2024-09-14","v":0.9990,"g":29,"s":"below"},{"d":"2024-09-15","v":1,"g":29,"s":"below"},
      {"d":"2024-09-15","v":1,"g":30,"s":"above"},{"d":"2024-09-17","v":1.0025,"g":30,"s":"above"},{"d":"2024-09-18","v":1.0061,"g":30,"s":"above"},{"d":"2024-09-20","v":1.0078,"g":30,"s":"above"},{"d":"2024-09-22","v":1.0084,"g":30,"s":"above"},{"d":"2024-09-23","v":1.0109,"g":30,"s":"above"},{"d":"2024-09-24","v":1.0116,"g":30,"s":"above"},{"d":"2024-09-26","v":1.0104,"g":30,"s":"above"},{"d":"2024-09-27","v":1.0116,"g":30,"s":"above"},{"d":"2024-09-29","v":1.0127,"g":30,"s":"above"},{"d":"2024-10-01","v":1.0091,"g":30,"s":"above"},{"d":"2024-10-02","v":1.0035,"g":30,"s":"above"},{"d":"2024-10-03","v":1,"g":30,"s":"above"},
      {"d":"2024-10-03","v":1,"g":31,"s":"below"},{"d":"2024-10-05","v":0.9980,"g":31,"s":"below"},{"d":"2024-10-06","v":0.9970,"g":31,"s":"below"},{"d":"2024-10-07","v":0.9990,"g":31,"s":"below"},{"d":"2024-10-09","v":0.9997,"g":31,"s":"below"},{"d":"2024-10-11","v":1,"g":31,"s":"below"},
      {"d":"2024-10-11","v":1,"g":32,"s":"above"},{"d":"2024-10-13","v":1.0008,"g":32,"s":"above"},{"d":"2024-10-15","v":1.0046,"g":32,"s":"above"},{"d":"2024-10-16","v":1.0101,"g":32,"s":"above"},{"d":"2024-10-17","v":1.0144,"g":32,"s":"above"},{"d":"2024-10-19","v":1.0154,"g":32,"s":"above"},{"d":"2024-10-21","v":1.0137,"g":32,"s":"above"},{"d":"2024-10-23","v":1.0101,"g":32,"s":"above"},{"d":"2024-10-25","v":1.0084,"g":32,"s":"above"},{"d":"2024-10-26","v":1.0073,"g":32,"s":"above"},{"d":"2024-10-27","v":1.0076,"g":32,"s":"above"},{"d":"2024-10-29","v":1.0132,"g":32,"s":"above"},{"d":"2024-10-30","v":1.0142,"g":32,"s":"above"},{"d":"2024-11-01","v":1.0139,"g":32,"s":"above"},{"d":"2024-11-03","v":1.0132,"g":32,"s":"above"},{"d":"2024-11-04","v":1.0106,"g":32,"s":"above"},{"d":"2024-11-05","v":1.0066,"g":32,"s":"above"},{"d":"2024-11-06","v":1.0116,"g":32,"s":"above"},{"d":"2024-11-07","v":1.0167,"g":32,"s":"above"},{"d":"2024-11-09","v":1.0182,"g":32,"s":"above"},{"d":"2024-11-10","v":1.0253,"g":32,"s":"above"},{"d":"2024-11-11","v":1.0344,"g":32,"s":"above"},{"d":"2024-11-12","v":1.0390,"g":32,"s":"above"},{"d":"2024-11-13","v":1.0397,"g":32,"s":"above"},{"d":"2024-11-14","v":1.0402,"g":32,"s":"above"},{"d":"2024-11-15","v":1.0413,"g":32,"s":"above"},{"d":"2024-11-16","v":1.0419,"g":32,"s":"above"},{"d":"2024-11-17","v":1.0400,"g":32,"s":"above"},{"d":"2024-11-18","v":1.0344,"g":32,"s":"above"},{"d":"2024-11-19","v":1.0304,"g":32,"s":"above"},{"d":"2024-11-20","v":1.0289,"g":32,"s":"above"},{"d":"2024-11-21","v":1.0334,"g":32,"s":"above"},{"d":"2024-11-23","v":1.0342,"g":32,"s":"above"},{"d":"2024-11-24","v":1.0365,"g":32,"s":"above"},{"d":"2024-11-25","v":1.0349,"g":32,"s":"above"},{"d":"2024-11-26","v":1.0304,"g":32,"s":"above"},{"d":"2024-11-28","v":1.0228,"g":32,"s":"above"},{"d":"2024-11-29","v":1.0213,"g":32,"s":"above"},{"d":"2024-11-30","v":1.0172,"g":32,"s":"above"},{"d":"2024-12-02","v":1.0172,"g":32,"s":"above"},{"d":"2024-12-03","v":1.0210,"g":32,"s":"above"},{"d":"2024-12-04","v":1.0253,"g":32,"s":"above"},{"d":"2024-12-06","v":1.0238,"g":32,"s":"above"},{"d":"2024-12-07","v":1.0246,"g":32,"s":"above"},{"d":"2024-12-08","v":1.0238,"g":32,"s":"above"},{"d":"2024-12-10","v":1.0304,"g":32,"s":"above"},{"d":"2024-12-12","v":1.0253,"g":32,"s":"above"},{"d":"2024-12-13","v":1.0243,"g":32,"s":"above"},{"d":"2024-12-15","v":1.0248,"g":32,"s":"above"},{"d":"2024-12-16","v":1.0258,"g":32,"s":"above"},{"d":"2024-12-18","v":1.0238,"g":32,"s":"above"},{"d":"2024-12-19","v":1.0203,"g":32,"s":"above"},{"d":"2024-12-21","v":1.0177,"g":32,"s":"above"},{"d":"2024-12-22","v":1.0142,"g":32,"s":"above"},{"d":"2024-12-23","v":1.0056,"g":32,"s":"above"},{"d":"2024-12-25","v":1.0048,"g":32,"s":"above"},{"d":"2024-12-27","v":1.0033,"g":32,"s":"above"},{"d":"2024-12-28","v":1.0028,"g":32,"s":"above"},{"d":"2024-12-30","v":1.0033,"g":32,"s":"above"},{"d":"2025-01-01","v":1.0025,"g":32,"s":"above"},{"d":"2025-01-03","v":1.0046,"g":32,"s":"above"},{"d":"2025-01-04","v":1.0063,"g":32,"s":"above"},{"d":"2025-01-06","v":1.0091,"g":32,"s":"above"},{"d":"2025-01-07","v":1.0084,"g":32,"s":"above"},{"d":"2025-01-09","v":1.0035,"g":32,"s":"above"},{"d":"2025-01-11","v":1.0023,"g":32,"s":"above"},{"d":"2025-01-12","v":1.0012,"g":32,"s":"above"},{"d":"2025-01-13","v":1,"g":32,"s":"above"},
      {"d":"2025-01-13","v":1,"g":33,"s":"below"},{"d":"2025-01-14","v":0.9988,"g":33,"s":"below"},{"d":"2025-01-15","v":1,"g":33,"s":"below"},
      {"d":"2025-01-15","v":1,"g":34,"s":"above"},{"d":"2025-01-16","v":1.0091,"g":34,"s":"above"},{"d":"2025-01-17","v":1.0122,"g":34,"s":"above"},{"d":"2025-01-18","v":1.0137,"g":34,"s":"above"},{"d":"2025-01-20","v":1.0180,"g":34,"s":"above"},{"d":"2025-01-22","v":1.0187,"g":34,"s":"above"},{"d":"2025-01-23","v":1.0162,"g":34,"s":"above"},{"d":"2025-01-24","v":1.0144,"g":34,"s":"above"},{"d":"2025-01-26","v":1.0132,"g":34,"s":"above"},{"d":"2025-01-27","v":1.0086,"g":34,"s":"above"},{"d":"2025-01-28","v":1.0061,"g":34,"s":"above"},{"d":"2025-01-30","v":1.0076,"g":34,"s":"above"},{"d":"2025-01-31","v":1.0056,"g":34,"s":"above"},{"d":"2025-02-02","v":1.0033,"g":34,"s":"above"},{"d":"2025-02-03","v":1.0025,"g":34,"s":"above"},{"d":"2025-02-05","v":1,"g":34,"s":"above"},
      {"d":"2025-02-05","v":1,"g":35,"s":"below"},{"d":"2025-02-07","v":0.9954,"g":35,"s":"below"},{"d":"2025-02-08","v":0.9947,"g":35,"s":"below"},{"d":"2025-02-10","v":0.9975,"g":35,"s":"below"},{"d":"2025-02-12","v":0.9972,"g":35,"s":"below"},{"d":"2025-02-13","v":0.9977,"g":35,"s":"below"},{"d":"2025-02-15","v":0.9990,"g":35,"s":"below"},{"d":"2025-02-17","v":0.9987,"g":35,"s":"below"},{"d":"2025-02-19","v":0.9992,"g":35,"s":"below"},{"d":"2025-02-20","v":1,"g":35,"s":"below"},
      {"d":"2025-02-20","v":1,"g":36,"s":"above"},{"d":"2025-02-22","v":1.0003,"g":36,"s":"above"},{"d":"2025-02-24","v":1.0004,"g":36,"s":"above"},{"d":"2025-02-25","v":1,"g":36,"s":"above"},
      {"d":"2025-02-25","v":1,"g":37,"s":"below"},{"d":"2025-02-26","v":0.9929,"g":37,"s":"below"},{"d":"2025-02-27","v":0.9863,"g":37,"s":"below"},{"d":"2025-02-28","v":0.9803,"g":37,"s":"below"},{"d":"2025-03-01","v":0.9797,"g":37,"s":"below"},{"d":"2025-03-02","v":0.9818,"g":37,"s":"below"},{"d":"2025-03-04","v":0.9828,"g":37,"s":"below"},{"d":"2025-03-06","v":0.9899,"g":37,"s":"below"},{"d":"2025-03-07","v":0.9959,"g":37,"s":"below"},{"d":"2025-03-08","v":0.9957,"g":37,"s":"below"},{"d":"2025-03-10","v":0.9878,"g":37,"s":"below"},{"d":"2025-03-11","v":0.9873,"g":37,"s":"below"},{"d":"2025-03-13","v":0.9828,"g":37,"s":"below"},{"d":"2025-03-15","v":0.9848,"g":37,"s":"below"},{"d":"2025-03-16","v":0.9863,"g":37,"s":"below"},{"d":"2025-03-17","v":0.9894,"g":37,"s":"below"},{"d":"2025-03-19","v":0.9909,"g":37,"s":"below"},{"d":"2025-03-20","v":0.9932,"g":37,"s":"below"},{"d":"2025-03-21","v":0.9916,"g":37,"s":"below"},{"d":"2025-03-23","v":0.9929,"g":37,"s":"below"},{"d":"2025-03-25","v":0.9975,"g":37,"s":"below"},{"d":"2025-03-26","v":0.9975,"g":37,"s":"below"},{"d":"2025-03-28","v":0.9965,"g":37,"s":"below"},{"d":"2025-03-30","v":0.9939,"g":37,"s":"below"},{"d":"2025-03-31","v":0.9894,"g":37,"s":"below"},{"d":"2025-04-02","v":0.9878,"g":37,"s":"below"},{"d":"2025-04-03","v":0.9858,"g":37,"s":"below"},{"d":"2025-04-05","v":0.9876,"g":37,"s":"below"},{"d":"2025-04-06","v":0.9868,"g":37,"s":"below"},{"d":"2025-04-07","v":0.9848,"g":37,"s":"below"},{"d":"2025-04-09","v":0.9833,"g":37,"s":"below"},{"d":"2025-04-10","v":0.9846,"g":37,"s":"below"},{"d":"2025-04-12","v":0.9848,"g":37,"s":"below"},{"d":"2025-04-13","v":0.9884,"g":37,"s":"below"},{"d":"2025-04-14","v":0.9954,"g":37,"s":"below"},{"d":"2025-04-16","v":0.9975,"g":37,"s":"below"},{"d":"2025-04-17","v":0.9980,"g":37,"s":"below"},{"d":"2025-04-18","v":0.9992,"g":37,"s":"below"},{"d":"2025-04-20","v":0.9975,"g":37,"s":"below"},{"d":"2025-04-21","v":0.9980,"g":37,"s":"below"},{"d":"2025-04-22","v":1,"g":37,"s":"below"},
      {"d":"2025-04-22","v":1,"g":38,"s":"above"},{"d":"2025-04-23","v":1.0076,"g":38,"s":"above"},{"d":"2025-04-25","v":1.0122,"g":38,"s":"above"},{"d":"2025-04-26","v":1.0152,"g":38,"s":"above"},{"d":"2025-04-28","v":1.0157,"g":38,"s":"above"},{"d":"2025-04-29","v":1.0127,"g":38,"s":"above"},{"d":"2025-04-30","v":1.0106,"g":38,"s":"above"},{"d":"2025-05-01","v":1.0116,"g":38,"s":"above"},{"d":"2025-05-03","v":1.0116,"g":38,"s":"above"},{"d":"2025-05-04","v":1.0101,"g":38,"s":"above"},{"d":"2025-05-06","v":1.0086,"g":38,"s":"above"},{"d":"2025-05-08","v":1.0106,"g":38,"s":"above"},{"d":"2025-05-09","v":1.0132,"g":38,"s":"above"},{"d":"2025-05-10","v":1.0152,"g":38,"s":"above"},{"d":"2025-05-11","v":1.0182,"g":38,"s":"above"},{"d":"2025-05-12","v":1.0192,"g":38,"s":"above"},{"d":"2025-05-13","v":1.0196,"g":38,"s":"above"}
    ],
    "arrows": [
      {"d1":"2022-12-31","v1":1.04133,"d2":"2023-01-14","v2":1.03464,"a":153.6},
      {"d1":"2023-02-19","v1":1.04731,"d2":"2023-03-14","v2":1.04064,"a":141.2},
      {"d1":"2023-10-25","v1":1.03687,"d2":"2023-11-27","v2":1.03115,"a":127.3},
      {"d1":"2024-01-05","v1":1.04857,"d2":"2024-02-18","v2":1.04116,"a":126.9},
      {"d1":"2024-09-24","v1":1.04599,"d2":"2024-11-01","v2":1.04074,"a":121.4}
    ]
  },
  "layer": [
    {
      "layer": [
        {
          "data": {"values": [{}]},
          "mark": {"type": "rect", "color": "#fcebe9"},
          "encoding": {
            "y": {"datum": 0.96, "type": "quantitative", "title": "BLOCKTRENDS"},
            "y2": {"datum": 1}
          }
        },
        {
          "data": {"values": [{}]},
          "mark": {"type": "text", "text": "BLOCKTRENDS", "font": "Roboto", "fontWeight": 900, "fontSize": 58.5, "color": "#e7e7e7", "align": "right", "baseline": "middle"},
          "encoding": {
            "x": {"datum": {"year": 2024, "month": 4, "date": 1}, "type": "temporal", "title": "Fonte: BlockTrends PRO, dados por CryptoQuant em 14/05/2025"},
            "y": {"datum": 1.0087, "type": "quantitative", "title": "BLOCKTRENDS"}
          }
        },
        {
          "data": {"values": [{}]},
          "mark": {"type": "text", "text": "|", "font": "Lato", "fontWeight": 300, "fontSize": 66, "color": "#e4e4e4", "align": "center", "baseline": "middle"},
          "encoding": {
            "x": {"datum": {"year": 2024, "month": 4, "date": 23}, "type": "temporal", "title": "Fonte: BlockTrends PRO, dados por CryptoQuant em 14/05/2025"},
            "y": {"datum": 1.0087, "type": "quantitative", "title": "BLOCKTRENDS"}
          }
        },
        {
          "data": {"values": [{}]},
          "mark": {"type": "text", "text": "Research", "font": "Lato", "fontWeight": 300, "fontSize": 62.5, "color": "#e4e4e4", "align": "left", "baseline": "middle"},
          "encoding": {
            "x": {"datum": {"year": 2024, "month": 5, "date": 9}, "type": "temporal", "title": "Fonte: BlockTrends PRO, dados por CryptoQuant em 14/05/2025"},
            "y": {"datum": 1.0087, "type": "quantitative", "title": "BLOCKTRENDS"}
          }
        },
        {
          "data": {"name": "sopr"},
          "mark": {"type": "line", "strokeWidth": 3, "strokeJoin": "round"},
          "encoding": {
            "x": {
              "field": "d",
              "type": "temporal",
              "title": "Fonte: BlockTrends PRO, dados por CryptoQuant em 14/05/2025",
              "scale": {"domain": [{"year": 2023, "month": 1, "date": 1}, {"year": 2025, "month": 5, "date": 21}]},
              "axis": {
                "values": [
                  {"year": 2023, "month": 1, "date": 1}, {"year": 2023, "month": 4, "date": 1}, {"year": 2023, "month": 7, "date": 1}, {"year": 2023, "month": 10, "date": 1},
                  {"year": 2024, "month": 1, "date": 1}, {"year": 2024, "month": 4, "date": 1}, {"year": 2024, "month": 7, "date": 1}, {"year": 2024, "month": 10, "date": 1},
                  {"year": 2025, "month": 1, "date": 1}, {"year": 2025, "month": 4, "date": 1}
                ],
                "format": "%Y %b",
                "labelFlush": false,
                "labelAlign": "center",
                "labelFont": "Open Sans",
                "labelFontSize": 19,
                "labelColor": "#6e7079",
                "labelPadding": 14,
                "tickColor": "#dcdce4",
                "tickSize": 16,
                "tickWidth": 1.5,
                "domainColor": "#d4d4de",
                "domainWidth": 1.5,
                "grid": false,
                "titleX": -84,
                "titleY": 139,
                "titleAlign": "left",
                "titleAnchor": "start",
                "titleBaseline": "middle",
                "titleFont": "Open Sans",
                "titleFontSize": 27,
                "titleFontWeight": "normal",
                "titleColor": "#555555"
              }
            },
            "y": {
              "field": "v",
              "type": "quantitative",
              "title": "BLOCKTRENDS",
              "scale": {"domain": [0.96, 1.055], "nice": false, "zero": false},
              "axis": {
                "orient": "right",
                "values": [0.96, 0.98, 1, 1.02, 1.04],
                "format": "~g",
                "offset": 14,
                "domainColor": "#9a9aa6",
                "domainWidth": 3,
                "ticks": false,
                "tickSize": 0,
                "labelPadding": 26,
                "labelFont": "DejaVu Sans",
                "labelFontSize": 17,
                "labelColor": "#333333",
                "grid": true,
                "gridColor": "#eeeeee",
                "gridWidth": 1.2,
                "titleAngle": 0,
                "titleX": 69,
                "titleY": 1024,
                "titleAlign": "right",
                "titleAnchor": null,
                "titleBaseline": "middle",
                "titleFont": "Inter",
                "titleFontSize": 29.5,
                "titleFontWeight": 900,
                "titleColor": "#111111"
              }
            },
            "detail": {"field": "g", "type": "nominal"},
            "stroke": {"field": "s", "type": "nominal", "scale": {"domain": ["above", "below"], "range": ["#5884e8", "#e26868"]}, "legend": null}
          }
        },
        {
          "data": {"values": [{}]},
          "mark": {"type": "rule", "color": "#333333", "strokeWidth": 2.2, "strokeDash": [9, 6]},
          "encoding": {
            "y": {"datum": 1, "type": "quantitative", "title": "BLOCKTRENDS"}
          }
        },
        {
          "data": {"name": "arrows"},
          "mark": {"type": "rule", "color": "#ff0000", "strokeWidth": 8, "strokeCap": "round"},
          "encoding": {
            "x": {"field": "d1", "type": "temporal", "title": "Fonte: BlockTrends PRO, dados por CryptoQuant em 14/05/2025"},
            "x2": {"field": "d2"},
            "y": {"field": "v1", "type": "quantitative", "title": "BLOCKTRENDS"},
            "y2": {"field": "v2"}
          }
        },
        {
          "data": {"name": "arrows"},
          "mark": {"type": "point", "shape": "triangle-up", "filled": true, "color": "#ff0000", "opacity": 1, "size": 1150, "strokeWidth": 0},
          "encoding": {
            "x": {"field": "d2", "type": "temporal", "title": "Fonte: BlockTrends PRO, dados por CryptoQuant em 14/05/2025"},
            "y": {"field": "v2", "type": "quantitative", "title": "BLOCKTRENDS"},
            "angle": {"field": "a", "type": "quantitative", "scale": null}
          }
        }
      ]
    },
    {
      "data": {"name": "btc"},
      "mark": {"type": "line", "strokeWidth": 3.2, "strokeJoin": "round"},
      "encoding": {
        "x": {"field": "d", "type": "temporal", "title": "Fonte: BlockTrends PRO, dados por CryptoQuant em 14/05/2025"},
        "y": {
          "field": "p",
          "type": "quantitative",
          "title": null,
          "scale": {"type": "log", "domain": [10000, 116400], "nice": false},
          "axis": {
            "orient": "left",
            "values": [10000, 20000, 30000, 40000, 50000, 60000, 70000, 80000, 90000, 100000],
            "labelExpr": "datum.value / 1000 + 'K'",
            "offset": 14,
            "domainColor": "#9a9aa6",
            "domainWidth": 3,
            "ticks": false,
            "tickSize": 0,
            "labelPadding": 25,
            "labelFont": "DejaVu Sans",
            "labelFontSize": 17,
            "labelColor": "#333333",
            "grid": false
          }
        },
        "color": {
          "datum": "BTC Price [USD]",
          "scale": {
            "domain": ["BTC Price [USD]", "SOPR", "SMA 7d", "Maximum 7d", "Minimum 7d"],
            "range": ["#151515", "#d3d3db", "#5884e8", "#d3d3db", "#d3d3db"]
          },
          "legend": {
            "orient": "none",
            "legendX": 468,
            "legendY": -77,
            "direction": "horizontal",
            "title": null,
            "padding": 0,
            "symbolType": "stroke",
            "symbolSize": 1600,
            "symbolStrokeWidth": 4,
            "labelFont": "Open Sans",
            "labelFontSize": 19,
            "labelOffset": 9,
            "columnPadding": 27,
            "labelExpr": "datum.label == 'SOPR' ? 'S̶O̶P̶R̶' : datum.label == 'Maximum 7d' ? 'M̶a̶x̶i̶m̶u̶m̶ ̶7̶d̶' : datum.label == 'Minimum 7d' ? 'M̶i̶n̶i̶m̶u̶m̶ ̶7̶d̶' : datum.label",
            "encode": {
              "labels": {
                "update": {
                  "fill": {"signal": "datum.value == 'BTC Price [USD]' || datum.value == 'SMA 7d' ? '#333333' : '#80808c'"},
                  "font": {"signal": "datum.value == 'BTC Price [USD]' || datum.value == 'SMA 7d' ? 'Open Sans' : 'DejaVu Sans'"},
                  "fontSize": {"signal": "datum.value == 'BTC Price [USD]' || datum.value == 'SMA 7d' ? 19 : 18"}
                }
              },
              "symbols": {"update": {"strokeDash": {"signal": "datum.value == 'Maximum 7d' || datum.value == 'Minimum 7d' ? [27, 8, 6, 60] : [1, 0]"}}}
            }
          }
        }
      }
    }
  ],
  "resolve": {"scale": {"y": "independent"}}
}
